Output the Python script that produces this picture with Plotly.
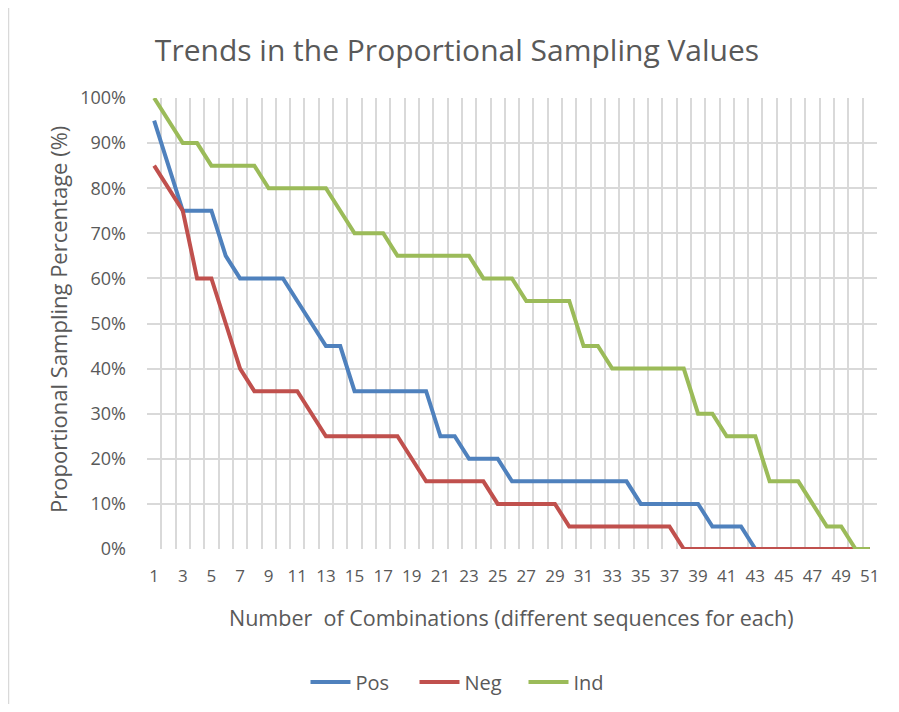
import plotly.graph_objects as go

categories = list(range(1, 52))
tick_labels = [str(c) for c in range(1, 52, 2)]

pos_values = [95, 85, 75, 75, 75, 65, 60, 60, 60, 60,
              55, 50, 45, 45, 35, 35, 35, 35, 35, 35,
              25, 25, 20, 20, 20, 15, 15, 15, 15, 15,
              15, 15, 15, 15, 10, 10, 10, 10, 10, 5,
              5, 5, 0, 0, 0, 0, 0, 0, 0, 0, 0]
neg_values = [85, 80, 75, 60, 60, 50, 40, 35, 35, 35,
              35, 30, 25, 25, 25, 25, 25, 25, 20, 15,
              15, 15, 15, 15, 10, 10, 10, 10, 10, 5,
              5, 5, 5, 5, 5, 5, 5, 0, 0, 0,
              0, 0, 0, 0, 0, 0, 0, 0, 0, 0, 0]
ind_values = [100, 95, 90, 90, 85, 85, 85, 85, 80, 80,
              80, 80, 80, 75, 70, 70, 70, 65, 65, 65,
              65, 65, 65, 60, 60, 60, 55, 55, 55, 55,
              45, 45, 40, 40, 40, 40, 40, 40, 30, 30,
              25, 25, 25, 15, 15, 15, 10, 5, 5, 0, 0]

series = [("Pos", pos_values, "#4F81BD"),
          ("Neg", neg_values, "#C0504D"),
          ("Ind", ind_values, "#9BBB59")]

FONT = "Open Sans, Lato, sans-serif"
TXT = "#595959"
GRID = "#D9D9D9"

fig = go.Figure()
for name, vals, color in series:
    fig.add_trace(go.Scatter(x=categories, y=vals, name=name, mode="lines",
                             line=dict(color=color, width=4)))

# page body has an 8px margin; work in reference-window coordinates
OFF = 8
W, H = 899 - OFF, 712 - 2 * OFF
L, T = 147 - OFF, 98 - OFF
R = W - (877 - OFF)
B = H - (549 - OFF)
pw, ph = W - L - R, H - T - B

def px(x):
    return (x - OFF - L) / pw

def py(y):
    return (H - B - (y - OFF)) / ph

def cx(x):
    return (x - OFF) / W

def cy(y):
    return 1 - (y - OFF) / H

fig.update_layout(
    width=W, height=H,
    margin=dict(l=L, r=R, t=T, b=B, pad=0, autoexpand=False),
    paper_bgcolor="white", plot_bgcolor="white",
    font=dict(family=FONT, color=TXT, size=16),
    title=dict(text="Trends in the Proportional Sampling Values",
               x=cx(457), xref="container", xanchor="center",
               y=cy(50), yref="container", yanchor="middle",
               font=dict(size=30, color=TXT, family=FONT)),
    showlegend=True,
    legend=dict(orientation="h", x=cx(469), xref="container", xanchor="center",
                y=cy(682), yref="container", yanchor="middle",
                font=dict(size=20, color=TXT), itemwidth=40,
                entrywidth=54, entrywidthmode="pixels",
                traceorder="normal"),
    xaxis=dict(range=[0.5, 51.5], tickmode="array",
               tickvals=list(range(1, 52, 2)), ticktext=tick_labels,
               showgrid=False, zeroline=False, showline=False,
               ticks="", ticklabelstandoff=15, automargin=False,
               tickfont=dict(size=17, color=TXT),
               minor=dict(tick0=0.5, dtick=1, showgrid=True,
                          gridcolor=GRID, gridwidth=1.5, ticks="")),
    yaxis=dict(range=[0, 100], tickmode="array",
               tickvals=list(range(0, 101, 10)),
               ticktext=[f"{v}%" for v in range(0, 101, 10)],
               showgrid=True, gridcolor=GRID, gridwidth=1.5,
               zeroline=False, showline=False, ticks="",
               ticklabelstandoff=20, automargin=False,
               tickfont=dict(size=18, color=TXT)),
    annotations=[
        dict(text="Number  of Combinations (different sequences for each)",
             xref="paper", yref="paper", x=px(511), y=py(617),
             xanchor="center", yanchor="middle", showarrow=False,
             font=dict(size=21.5, color=TXT)),
        dict(text="Proportional Sampling Percentage (%)",
             xref="paper", yref="paper", x=px(58), y=py(320),
             xanchor="center", yanchor="middle", showarrow=False,
             textangle=-90, font=dict(size=22, color=TXT)),
    ],
    shapes=[
        dict(type="line", xref="paper", yref="paper",
             x0=px(8.5), x1=px(899), y0=py(7), y1=py(7),
             line=dict(color=GRID, width=1.5)),
        dict(type="line", xref="paper", yref="paper",
             x0=px(8.5), x1=px(8.5), y0=py(7), y1=py(712),
             line=dict(color=GRID, width=1.5)),
    ],
)

fig.write_html("out.html")
